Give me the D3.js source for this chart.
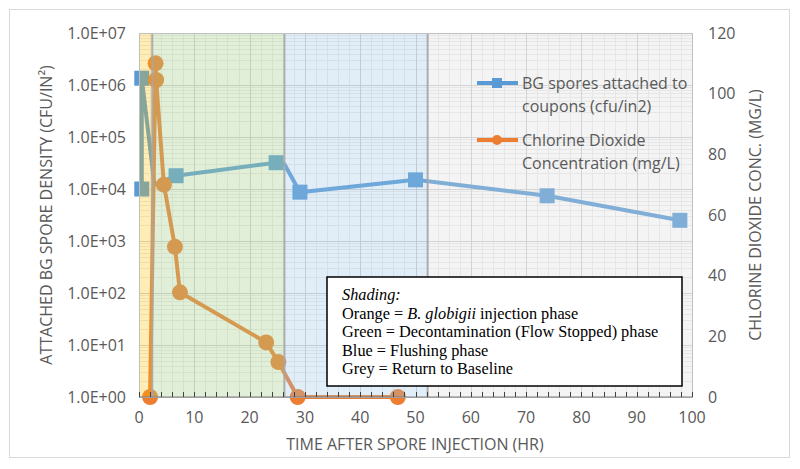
<!DOCTYPE html>
<html><head><meta charset="utf-8">
<script src="https://cdn.jsdelivr.net/npm/d3@7"></script>
<style>body{margin:0;background:#fff}</style>
</head><body>
<svg id="c" width="800" height="469"></svg>
<script>
// Data
const bgTime = [0.5, 0.5, 2.8, 6.7, 24.8, 26.3, 29.1, 50, 73.8, 97.8];
const bgDensity = [1.0e4, 1.35e6, 1.2e4, 1.8e4, 3.2e4, 3.0e4, 8.7e3, 1.5e4, 7.4e3, 2.5e3];
const bgMeasured = [true, true, false, true, true, false, true, true, true, true];
const clTime = [2.0, 3.0, 3.1, 4.5, 6.5, 7.4, 23.0, 25.2, 28.7, 46.8];
const clConc = [0, 110, 104.5, 70, 49.5, 34.5, 18, 11.5, 0, 0];
const phaseNames = ["Orange", "Green", "Blue", "Grey"];
const phaseStart = [0, 2.4, 26.3, 52.2];
const phaseEnd = [2.4, 26.3, 52.2, 100];
const leftTicks = [1, 10, 100, 1000, 1e4, 1e5, 1e6, 1e7];
const rightTicks = [0, 20, 40, 60, 80, 100, 120];
const xTicks = [0, 10, 20, 30, 40, 50, 60, 70, 80, 90, 100];
const seriesNames = ["BG spores attached to|coupons (cfu/in2)", "Chlorine Dioxide|Concentration (mg/L)"];

const svg = d3.select("#c");
const L = 139, R = 692, T = 33, B = 397;
const x = d3.scaleLinear().domain([0, 100]).range([L, R]);
const y = d3.scaleLog().domain([1, 1e7]).range([B, T]);
const y2 = d3.scaleLinear().domain([0, 120]).range([B, T]);
const blue = "#5B9BD5", orange = "#ED7D31", txt = "#595959";
const font = "'Open Sans', sans-serif";
const fs = 16;

// outer border
svg.append("rect").attr("x", 9.5).attr("y", 9.5).attr("width", 780).attr("height", 448)
  .attr("fill", "#fff").attr("stroke", "#D9D9D9");

// gridlines
const g = svg.append("g");
const minorY = [];
for (let k = 0; k < 7; k++) for (let m = 2; m <= 9; m++) minorY.push(m * Math.pow(10, k));
g.selectAll(".my").data(minorY).join("line").attr("x1", L).attr("x2", R)
  .attr("y1", d => Math.round(y(d)) + 0.5).attr("y2", d => Math.round(y(d)) + 0.5)
  .attr("stroke", "#EBEBEB").attr("stroke-width", 1);
const minorX = d3.range(0, 101, 2).filter(v => v % 10 !== 0);
g.selectAll(".mx").data(minorX).join("line").attr("y1", T).attr("y2", B)
  .attr("x1", d => Math.round(x(d)) + 0.5).attr("x2", d => Math.round(x(d)) + 0.5)
  .attr("stroke", "#EBEBEB");
g.selectAll(".Mx").data(xTicks).join("line").attr("y1", T).attr("y2", B)
  .attr("x1", d => Math.round(x(d)) + 0.5).attr("x2", d => Math.round(x(d)) + 0.5)
  .attr("stroke", "#D0D0D0");
g.selectAll(".My").data(leftTicks).join("line").attr("x1", L).attr("x2", R)
  .attr("y1", d => Math.round(y(d)) + 0.5).attr("y2", d => Math.round(y(d)) + 0.5)
  .attr("stroke", "#D0D0D0");

// series
const bgPts = bgTime.map((t, i) => ({t, v: bgDensity[i], m: bgMeasured[i]}));
const clPts = clTime.map((t, i) => ({t, v: clConc[i]}));
svg.append("path").datum(bgPts).attr("fill", "none").attr("stroke", blue).attr("stroke-width", 4)
  .attr("stroke-linejoin", "round")
  .attr("d", d3.line().x(d => x(d.t)).y(d => y(d.v)));
svg.selectAll(".bgm").data(bgPts.filter(d => d.m)).join("rect")
  .attr("x", d => x(d.t) - 7.5).attr("y", d => y(d.v) - 7.5).attr("width", 15).attr("height", 15)
  .attr("fill", blue);
svg.append("path").datum(clPts).attr("fill", "none").attr("stroke", orange).attr("stroke-width", 4)
  .attr("stroke-linejoin", "round")
  .attr("d", d3.line().x(d => x(d.t)).y(d => y2(d.v)));
svg.selectAll(".clm").data(clPts).join("circle")
  .attr("cx", d => x(d.t)).attr("cy", d => y2(d.v)).attr("r", 8).attr("fill", orange);

// shading overlays
const shadeCol = {Orange: ["#FFC000", 0.28], Green: ["#A9D18E", 0.35], Blue: ["#9DC3E6", 0.3], Grey: ["#D9D9D9", 0.3]};
svg.selectAll(".sh").data(phaseNames).join("rect")
  .attr("x", (d, i) => x(phaseStart[i])).attr("y", T)
  .attr("width", (d, i) => x(phaseEnd[i]) - x(phaseStart[i])).attr("height", B - T)
  .attr("fill", d => shadeCol[d][0]).attr("fill-opacity", d => shadeCol[d][1]);
svg.selectAll(".bd").data(phaseStart.slice(1)).join("line")
  .attr("x1", d => x(d)).attr("x2", d => x(d)).attr("y1", T).attr("y2", B)
  .attr("stroke", "#A6A6A6").attr("stroke-width", 2).attr("stroke-opacity", 0.9);

// plot border
svg.append("rect").attr("x", L + 0.5).attr("y", T + 0.5).attr("width", R - L).attr("height", B - T)
  .attr("fill", "none").attr("stroke", "#BFBFBF");

// bottom axis with inward minor ticks
const xa = svg.append("g").attr("transform", `translate(0,${B})`);
xa.append("line").attr("x1", L).attr("x2", R).attr("stroke", "#7F7F7F");
xa.selectAll(".tk").data(d3.range(0, 101, 2)).join("line")
  .attr("x1", d => Math.round(x(d)) + 0.5).attr("x2", d => Math.round(x(d)) + 0.5)
  .attr("y1", 0).attr("y2", -5).attr("stroke", "#404040");
xa.selectAll(".tl").data(xTicks).join("text")
  .attr("x", d => x(d)).attr("y", 26).attr("text-anchor", "middle")
  .attr("font-family", font).attr("font-size", fs).attr("fill", txt).text(d => d);

// left axis labels
svg.selectAll(".ly").data(leftTicks).join("text")
  .attr("x", 126).attr("y", d => y(d) + 5.5).attr("text-anchor", "end")
  .attr("font-family", font).attr("font-size", fs).attr("fill", txt)
  .text(d => "1.0E+" + String(Math.round(Math.log10(d))).padStart(2, "0"));
// right axis labels
svg.selectAll(".ry").data(rightTicks).join("text")
  .attr("x", 708).attr("y", d => y2(d) + 5.5).attr("text-anchor", "start")
  .attr("font-family", font).attr("font-size", fs).attr("fill", txt).text(d => d);

// axis titles
svg.append("text").attr("transform", "translate(52,215) rotate(-90)").attr("text-anchor", "middle")
  .attr("font-family", font).attr("font-size", fs).attr("fill", txt)
  .text("ATTACHED BG SPORE DENSITY (CFU/IN²)");
svg.append("text").attr("transform", "translate(761,215) rotate(-90)").attr("text-anchor", "middle")
  .attr("font-family", font).attr("font-size", fs).attr("fill", txt)
  .text("CHLORINE DIOXIDE CONC. (MG/L)");
svg.append("text").attr("x", 415).attr("y", 450).attr("text-anchor", "middle")
  .attr("font-family", font).attr("font-size", fs).attr("fill", txt)
  .text("TIME AFTER SPORE INJECTION (HR)");

// legend
const lg = svg.append("g");
const legY = [83, 140];
const legCol = [blue, orange];
seriesNames.forEach((name, i) => {
  lg.append("line").attr("x1", 477).attr("x2", 518).attr("y1", legY[i]).attr("y2", legY[i])
    .attr("stroke", legCol[i]).attr("stroke-width", 4);
  if (i === 0) lg.append("rect").attr("x", 492).attr("y", legY[i] - 5).attr("width", 10).attr("height", 10).attr("fill", blue);
  else lg.append("circle").attr("cx", 497).attr("cy", legY[i]).attr("r", 5).attr("fill", orange);
  name.split("|").forEach((ln, j) => {
    lg.append("text").attr("x", 522).attr("y", legY[i] + 5.5 + j * 23)
      .attr("font-family", font).attr("font-size", fs).attr("fill", txt).text(ln);
  });
});

// shading note box
const nb = svg.append("g");
nb.append("rect").attr("x", 327).attr("y", 277).attr("width", 355).attr("height", 109)
  .attr("fill", "#fff").attr("stroke", "#000").attr("stroke-width", 1.5);
const serif = "'Liberation Serif', 'Times New Roman', serif";
const nfs = 16.3;
const noteY = [300, 318.5, 337, 355.5, 374];
nb.append("text").attr("x", 342).attr("y", noteY[0]).attr("font-family", serif).attr("font-size", nfs)
  .attr("font-style", "italic").text("Shading:");
const t1 = nb.append("text").attr("x", 342).attr("y", noteY[1]).attr("font-family", serif).attr("font-size", nfs);
t1.append("tspan").text("Orange = ");
t1.append("tspan").attr("font-style", "italic").text("B. globigii");
t1.append("tspan").text(" injection phase");
nb.append("text").attr("x", 342).attr("y", noteY[2]).attr("font-family", serif).attr("font-size", nfs)
  .text("Green = Decontamination (Flow Stopped) phase");
nb.append("text").attr("x", 342).attr("y", noteY[3]).attr("font-family", serif).attr("font-size", nfs)
  .text("Blue = Flushing phase");
nb.append("text").attr("x", 342).attr("y", noteY[4]).attr("font-family", serif).attr("font-size", nfs)
  .text("Grey = Return to Baseline");
</script>
</body></html>
